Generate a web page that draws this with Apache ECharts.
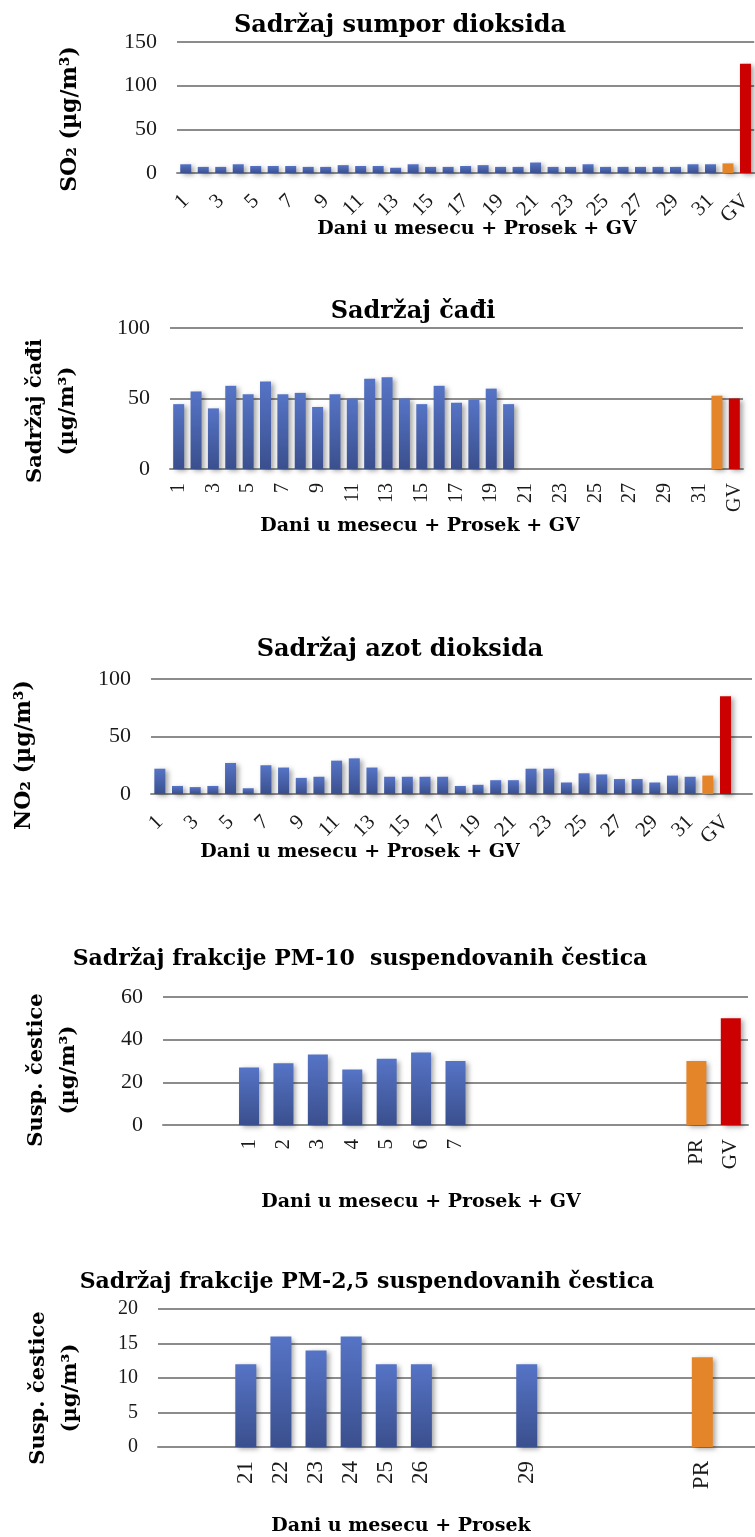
<!DOCTYPE html>
<html><head><meta charset="utf-8">
<script src="https://cdn.jsdelivr.net/npm/echarts@6/dist/echarts.min.js"></script>
<style>html,body{margin:0;padding:0;background:#fff}#c{width:755px;height:1537px}</style>
</head><body><div id="c"></div>
<script>
// ---------- DATA ----------
const dayLabels = ['1','2','3','4','5','6','7','8','9','10','11','12','13','14','15','16','17','18','19','20','21','22','23','24','25','26','27','28','29','30','31'];
const monthCats = dayLabels.concat(['PR','GV']);

const so2Days  = [10,7,7,10,8,8,8,7,7,9,8,8,6,10,7,7,8,9,7,7,12,7,7,10,7,7,7,7,7,10,10];
const so2Avg   = 11;
const so2Limit = 125;

const sootDays  = [46,55,43,59,53,62,53,54,44,53,50,64,65,50,46,59,47,49,57,46,null,null,null,null,null,null,null,null,null,null,null];
const sootAvg   = 52;
const sootLimit = 50;

const no2Days  = [22,7,6,7,27,5,25,23,14,15,29,31,23,15,15,15,15,7,8,12,12,22,22,10,18,17,13,13,10,16,15];
const no2Avg   = 16;
const no2Limit = 85;

const pm10Cats   = ['','','1','2','3','4','5','6','7','','','','','','','PR','GV'];
const pm10Days   = [null,null,27,29,33,26,31,34,30,null,null,null,null,null,null];
const pm10Avg    = 30;
const pm10Limit  = 50;

const pm25Cats   = ['','','21','22','23','24','25','26','','','29','','','','','PR',''];
const pm25Days   = [null,null,12,16,14,16,12,12,null,null,12,null,null,null,null];
const pm25Avg    = 13;

const yTicks1 = [0,150,50];   // min, max, interval
const yTicks2 = [0,100,50];
const yTicks3 = [0,100,50];
const yTicks4 = [0,60,20];
const yTicks5 = [0,20,5];

// ---------- STYLE ----------
const BLUE = {type:'linear',x:0,y:0,x2:0,y2:1,colorStops:[{offset:0,color:'#5674c6'},{offset:1,color:'#3a4f8d'}]};
const ORANGE = '#e5852a';
const RED = '#cc0000';
const SHADOW = {shadowColor:'rgba(0,0,0,0.35)',shadowBlur:5,shadowOffsetX:3,shadowOffsetY:2};
const SERIF = '"Liberation Serif","DejaVu Serif",serif';
const BOLD = '"DejaVu Serif",serif';
const GRIDCOL = '#8c8c8c';

function buildData(days, extras){
  const d = days.map(v => v === null ? null : {value:v});
  extras.forEach(e => d.push(e[0] === null ? null : {value:e[0], itemStyle:{color:e[1]}}));
  return d;
}

const grids = [
  {left:177, top:42,   width:578, height:131},
  {left:170, top:328,  width:573, height:141},
  {left:151, top:679,  width:601, height:115},
  {left:163, top:997,  width:585, height:128},
  {left:158, top:1309, width:607, height:138}
];

function xAx(i, cats, rot, size, interval, margin, extra){
  return Object.assign({
    type:'category', gridIndex:i, data:cats,
    axisLine:{show:true, lineStyle:{color:GRIDCOL, width:2}},
    axisTick:{show:false},
    axisLabel:{rotate:rot, interval:interval, margin:margin, color:'#1a1a1a', fontFamily:SERIF, fontSize:size}
  }, extra||{});
}
function yAx(i, t, size){
  return {
    type:'value', gridIndex:i, min:t[0], max:t[1], interval:t[2],
    axisLine:{show:false}, axisTick:{show:false},
    axisLabel:{margin:20, color:'#1a1a1a', fontFamily:SERIF, fontSize:size},
    splitLine:{lineStyle:{color:GRIDCOL, width:2}}
  };
}
function bar(i, data, bw){
  return {type:'bar', xAxisIndex:i, yAxisIndex:i, data:data, barWidth:bw,
          itemStyle:Object.assign({color:BLUE}, SHADOW), animation:false};
}
function txt(x, y, text, size, rot, lh){
  return {type:'text', x:x, y:y, rotation:rot||0, silent:true,
          style:{text:text, fill:'#000', font:'bold '+size+'px '+BOLD, align:'center', verticalAlign:'middle', lineHeight:lh||size*1.2}};
}
const R = Math.PI/2;

const option = {
  animation:false,
  backgroundColor:'#fff',
  grid:grids,
  xAxis:[
    xAx(0, monthCats, 45, 21, 1, 25),
    xAx(1, monthCats, 90, 20, 1, 14),
    xAx(2, monthCats, 45, 21, 1, 25, {max:33}),
    xAx(3, pm10Cats, 90, 21, 0, 14),
    xAx(4, pm25Cats, 90, 23, 0, 14)
  ],
  yAxis:[ yAx(0,yTicks1,22), yAx(1,yTicks2,22), yAx(2,yTicks3,22), yAx(3,yTicks4,22), yAx(4,yTicks5,20) ],
  series:[
    bar(0, buildData(so2Days,[[so2Avg,ORANGE],[so2Limit,RED]]), 11),
    bar(1, buildData(sootDays,[[sootAvg,ORANGE],[sootLimit,RED]]), 11),
    bar(2, buildData(no2Days,[[no2Avg,ORANGE],[no2Limit,RED]]), 11),
    bar(3, buildData(pm10Days,[[pm10Avg,ORANGE],[pm10Limit,RED]]), 20),
    bar(4, buildData(pm25Days,[[pm25Avg,ORANGE],[null,RED]]), 21)
  ],
  graphic:[
    txt(400, 26, 'Sadržaj sumpor dioksida', 24),
    txt(70, 119, 'SO₂ (µg/m³)', 22, R),
    txt(477, 229, 'Dani u mesecu + Prosek + GV', 19),

    txt(413, 312, 'Sadržaj čađi', 24),
    txt(52, 411, 'Sadržaj čađi\n(µg/m³)', 21, R, 32),
    txt(420, 526, 'Dani u mesecu + Prosek + GV', 19),

    txt(400, 650, 'Sadržaj azot dioksida', 24),
    txt(24, 755, 'NO₂ (µg/m³)', 22, R),
    txt(360, 852, 'Dani u mesecu + Prosek + GV', 19),

    txt(360, 959, 'Sadržaj frakcije PM-10  suspendovanih čestica', 22),
    txt(53, 1070, 'Susp. čestice\n(µg/m³)', 21, R, 32),
    txt(421, 1202, 'Dani u mesecu + Prosek + GV', 19),

    txt(367, 1282, 'Sadržaj frakcije PM-2,5 suspendovanih čestica', 22),
    txt(55, 1388, 'Susp. čestice\n(µg/m³)', 21, R, 32),
    txt(401, 1526, 'Dani u mesecu + Prosek', 19)
  ]
};
const chart = echarts.init(document.getElementById('c'), null, {renderer:'canvas'});
chart.setOption(option);
</script>
</body></html>
